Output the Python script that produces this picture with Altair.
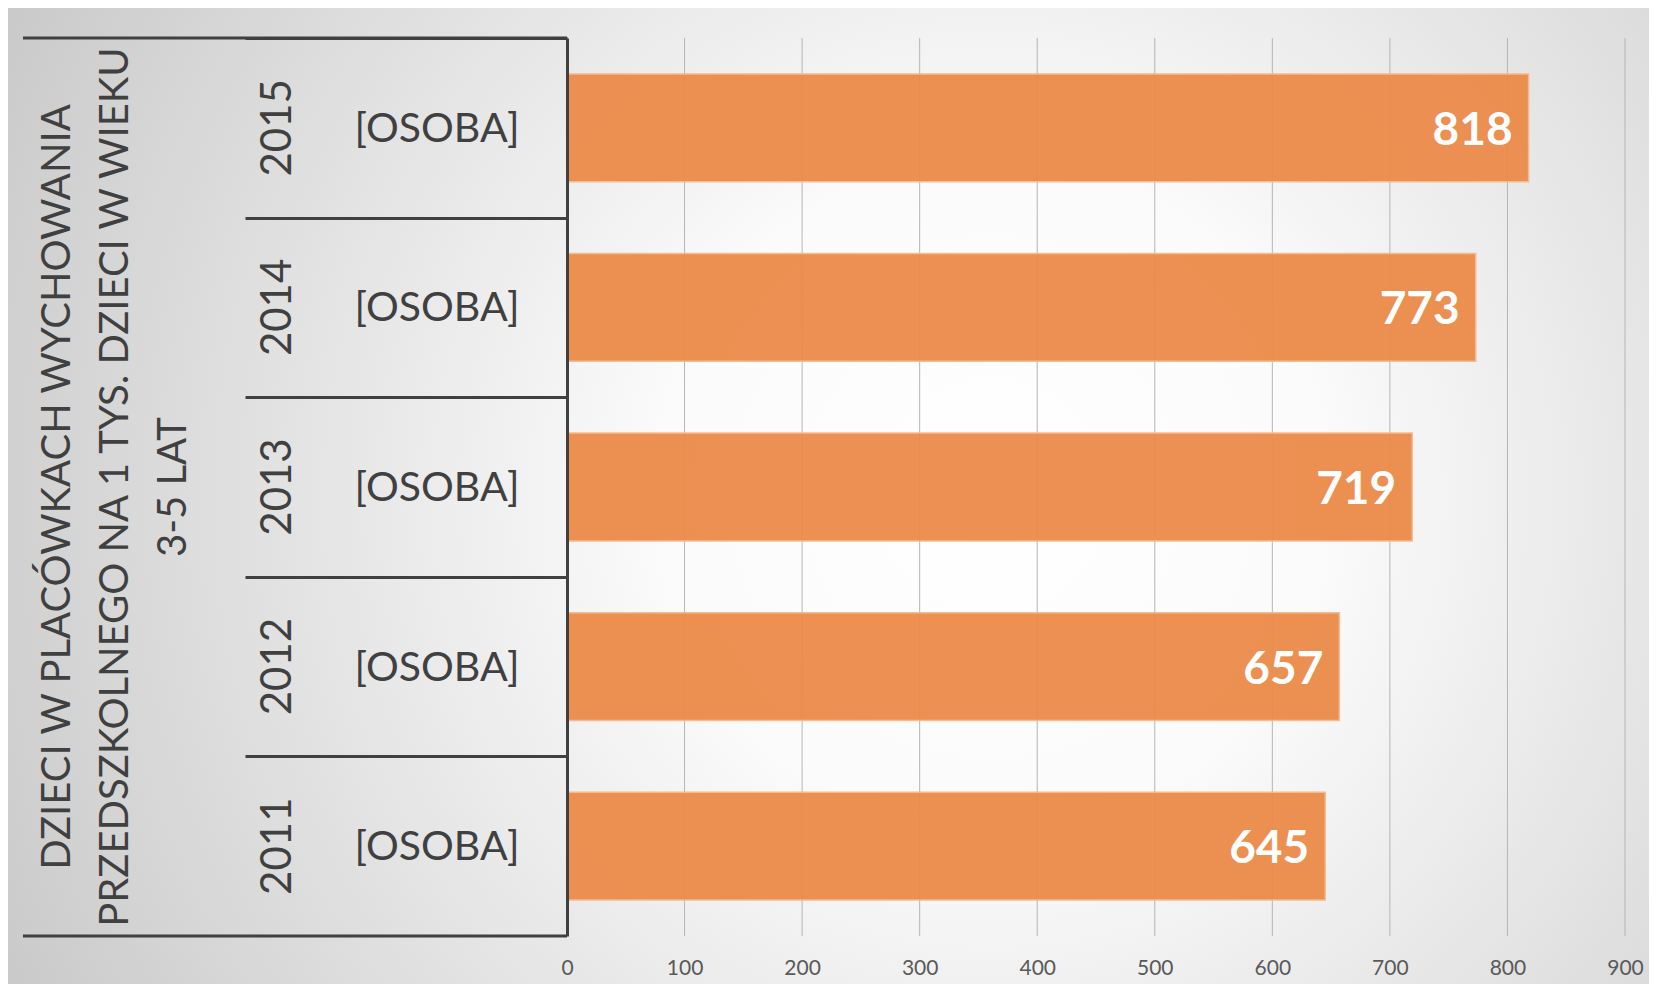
import altair as alt
import pandas as pd

# ---- data ----
YEARS = ["2015", "2014", "2013", "2012", "2011"]
VALUES = [818, 773, 719, 657, 645]
UNIT = "[OSOBA]"
TITLE_LINES = [
    "DZIECI W PLACÓWKACH WYCHOWANIA",
    "PRZEDSZKOLNEGO NA 1 TYS. DZIECI W WIEKU",
    "3-5 LAT",
]
X_TICKS = [0, 100, 200, 300, 400, 500, 600, 700, 800, 900]

# ---- layout / style ----
W, H = 1058, 898
STEP = H / len(YEARS)
PAD = {"left": 559, "top": 30, "right": 24, "bottom": 48}
FONT = "Lato"
DARK = "#404040"
BAR = "#EC8B4A"

df = pd.DataFrame({"year": YEARS, "value": VALUES, "unit": [UNIT] * len(YEARS)})
ticks_df = pd.DataFrame({"tick": X_TICKS})
one = pd.DataFrame({"title": ["\n".join(TITLE_LINES)]})

x_scale = alt.Scale(domain=[X_TICKS[0], X_TICKS[-1]], nice=False)
x_axis = alt.Axis(
    values=X_TICKS, format="d", grid=False, ticks=False, domain=False,
    labelFont=FONT, labelFontSize=21, labelColor="#595959", labelPadding=21,
    labelFlush=False, title=None, zindex=1,
)
y_axis = alt.Axis(
    labels=False, title=None, domain=True, domainColor=DARK, domainWidth=3,
    ticks=True, tickOffset=-STEP / 2, tickSize=322, tickColor=DARK,
    tickWidth=3, grid=False, zindex=1,
)
y_enc = alt.Y("year:N", sort=YEARS,
              scale=alt.Scale(paddingInner=0.4, paddingOuter=0.2), axis=y_axis)
x_enc = alt.X("value:Q", scale=x_scale, axis=x_axis)

gradient = {
    "gradient": "radial",
    "x1": 0.6, "y1": 0.5, "r1": 0,
    "x2": 0.6, "y2": 0.5, "r2": 0.8,
    "stops": [
        {"offset": 0, "color": "#ffffff"},
        {"offset": 0.25, "color": "#fbfbfb"},
        {"offset": 1, "color": "#bcbcbc"},
    ],
}

background = alt.Chart(one).mark_rect(fill=gradient).encode(
    x=alt.value(-PAD["left"]), x2=alt.value(W + PAD["right"]),
    y=alt.value(-PAD["top"]), y2=alt.value(H + PAD["bottom"]),
)

grid = alt.Chart(ticks_df).mark_rule(color="#b5b5b5", strokeWidth=1).encode(
    x=alt.X("tick:Q", scale=x_scale, axis=x_axis),
    y=alt.value(0), y2=alt.value(H),
)

bars = alt.Chart(df).mark_bar(
    fill=BAR, opacity=0.95, stroke="#F5B88C", strokeWidth=1.5
).encode(x=x_enc, y=y_enc)

bar_labels = alt.Chart(df).mark_text(
    align="right", baseline="middle", dx=-16, dy=3, color="white",
    font=FONT, fontWeight="bold", fontSize=46,
).encode(x=x_enc, y=y_enc, text="value:Q")

year_labels = alt.Chart(df).mark_text(
    angle=270, align="center", baseline="middle", color=DARK,
    font=FONT, fontSize=42,
).encode(x=alt.value(-289), y=y_enc, text="year:N")

unit_labels = alt.Chart(df).mark_text(
    align="center", baseline="middle", dy=2, color=DARK, font=FONT, fontSize=41,
).encode(x=alt.value(-130), y=y_enc, text="unit:N")

title = alt.Chart(one).mark_text(
    angle=270, align="center", baseline="middle", lineBreak="\n",
    lineHeight=58, color=DARK, font=FONT, fontSize=40,
).encode(x=alt.value(-509), y=alt.value(H / 2), text="title:N")

top_rule = alt.Chart(one).mark_rule(color=DARK, strokeWidth=3).encode(
    x=alt.value(-544), x2=alt.value(0), y=alt.value(0)
)
bottom_rule = alt.Chart(one).mark_rule(color=DARK, strokeWidth=3).encode(
    x=alt.value(-544), x2=alt.value(0), y=alt.value(H)
)

chart = alt.layer(
    background, grid, bars, bar_labels, year_labels, unit_labels, title,
    top_rule, bottom_rule,
).properties(
    width=W, height=H,
    autosize=alt.AutoSizeParams(type="none"),
    padding=PAD,
).configure_view(stroke=None)

chart.save("out.html", embed_options={"renderer": "svg", "actions": False})
